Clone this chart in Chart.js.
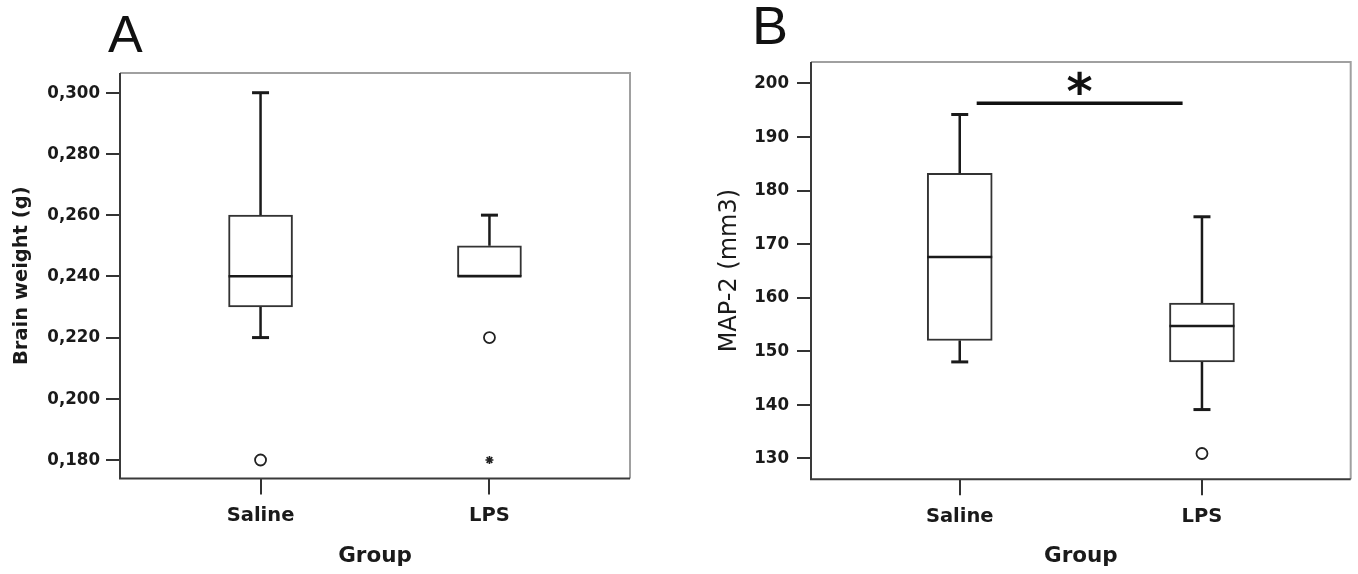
<!DOCTYPE html>
<html>
<head>
<meta charset="utf-8">
<title>Brain weight and MAP-2</title>
<script src="https://cdn.jsdelivr.net/npm/chart.js@4.4.0/dist/chart.umd.min.js"></script>
<style>
  body { margin: 0; background: #fff; width: 1358px; height: 574px; overflow: hidden; position: relative; }
  .panel { position: absolute; top: 0; height: 574px; }
  #panelA { left: 0; width: 680px; }
  #panelB { left: 680px; width: 678px; }
  .letter { position: absolute; font-family: 'Liberation Sans', Arial, sans-serif; font-size: 52px; line-height: 52px; color: #111; }
</style>
</head>
<body>
<div class="panel" id="panelA"><canvas id="chartA" width="680" height="574"></canvas></div>
<div class="panel" id="panelB"><canvas id="chartB" width="678" height="574"></canvas></div>
<div class="letter" style="left:108px; top:8px;">A</div>
<div class="letter" style="left:752px; top:-1px; font-size:54px;">B</div>
<script>
const groups = ['Saline', 'LPS'];
const groupPos = [1, 2];

// Panel A - brain weight (g)
const weightLow = [0.220, 0.240];
const weightQ1 = [0.230, 0.240];
const weightMedian = [0.240, 0.240];
const weightQ3 = [0.260, 0.250];
const weightHigh = [0.300, 0.260];
const weightOutlierGroup = [0, 1];
const weightOutlierValue = [0.180, 0.220];
const weightExtremeGroup = [1];
const weightExtremeValue = [0.180];
const weightTicks = [0.18, 0.20, 0.22, 0.24, 0.26, 0.28, 0.30];
const weightTickLabels = ['0,180', '0,200', '0,220', '0,240', '0,260', '0,280', '0,300'];

// Panel B - MAP-2 volume (mm3)
const mapLow = [148.0, 139.1];
const mapQ1 = [152.0, 148.0];
const mapMedian = [167.6, 154.7];
const mapQ3 = [183.2, 159.0];
const mapHigh = [194.2, 175.1];
const mapOutlierGroup = [1];
const mapOutlierValue = [130.9];
const mapTicks = [130, 140, 150, 160, 170, 180, 190, 200];
const mapTickLabels = ['130', '140', '150', '160', '170', '180', '190', '200'];
// significance bar between the groups
const sigFrom = 1.07, sigTo = 1.92, sigValue = 196.3, sigStarValue = 199.6;

const ink = '#1a1a1a';
const tickFont = { family: "'DejaVu Sans Condensed', 'DejaVu Sans', sans-serif", weight: 'bold', size: 18.5 };
const catFont = { family: "'DejaVu Sans', sans-serif", weight: 'bold', size: 19.5 };

// whiskers, caps and median line of each box
const boxWhiskers = {
  id: 'boxWhiskers',
  afterDatasetsDraw(chart, args, opts) {
    const { ctx, scales: { x, y } } = chart;
    ctx.save();
    ctx.strokeStyle = ink;
    ctx.lineCap = 'butt';
    opts.low.forEach((lo, i) => {
      const cx = x.getPixelForValue(groupPos[i]);
      const seg = (v0, v1) => {
        if (v0 === v1) return;
        ctx.lineWidth = 2.5;
        ctx.beginPath();
        ctx.moveTo(cx, y.getPixelForValue(v0));
        ctx.lineTo(cx, y.getPixelForValue(v1));
        ctx.stroke();
        ctx.lineWidth = 3;
        ctx.beginPath();
        ctx.moveTo(cx - opts.cap / 2, y.getPixelForValue(v1));
        ctx.lineTo(cx + opts.cap / 2, y.getPixelForValue(v1));
        ctx.stroke();
      };
      seg(opts.q3[i], opts.high[i]);
      seg(opts.q1[i], lo);
      ctx.lineWidth = 2.5;
      ctx.beginPath();
      const my = y.getPixelForValue(opts.median[i]);
      ctx.moveTo(cx - opts.box / 2, my);
      ctx.lineTo(cx + opts.box / 2, my);
      ctx.stroke();
    });
    if (opts.star) {
      ctx.fillStyle = '#111';
      ctx.font = "bold 50px 'DejaVu Sans', sans-serif";
      ctx.textAlign = 'center';
      ctx.textBaseline = 'middle';
      ctx.fillText('*', x.getPixelForValue(opts.star.x), y.getPixelForValue(opts.star.y) + 10);
    }
    ctx.restore();
  }
};

// plot frame: dark left/bottom, grey top/right
const frame = {
  id: 'frame',
  afterDraw(chart) {
    const { ctx, chartArea: a } = chart;
    ctx.save();
    ctx.lineWidth = 2;
    ctx.strokeStyle = '#a0a0a0';
    ctx.beginPath();
    ctx.moveTo(a.left, a.top); ctx.lineTo(a.right, a.top); ctx.lineTo(a.right, a.bottom);
    ctx.stroke();
    ctx.strokeStyle = '#3a3a3a';
    ctx.beginPath();
    ctx.moveTo(a.left, a.top); ctx.lineTo(a.left, a.bottom); ctx.lineTo(a.right, a.bottom);
    ctx.stroke();
    ctx.restore();
  }
};

function pointsOf(groupIdx, values) {
  return groupIdx.map((g, i) => ({ x: groupPos[g], y: values[i] }));
}

function makeChart(id, cfg) {
  const datasets = [{
    type: 'bar',
    data: groupPos.map((p, i) => ({ x: p, y: [cfg.q1[i], cfg.q3[i]] })),
    backgroundColor: '#fff',
    borderColor: '#333',
    borderWidth: 2,
    borderSkipped: false,
    barThickness: cfg.box
  }, {
    type: 'scatter',
    data: pointsOf(cfg.outGroup, cfg.outValue),
    pointStyle: 'circle',
    pointRadius: 5.5,
    borderColor: '#222',
    borderWidth: 1.8,
    backgroundColor: '#fff'
  }];
  if (cfg.extGroup) {
    datasets.push({
      type: 'scatter',
      data: pointsOf(cfg.extGroup, cfg.extValue),
      pointStyle: 'star',
      pointRadius: 4,
      borderColor: '#222',
      borderWidth: 1.6
    });
  }
  if (cfg.sig) {
    datasets.push({
      type: 'line',
      data: [{ x: cfg.sig.from, y: cfg.sig.y }, { x: cfg.sig.to, y: cfg.sig.y }],
      borderColor: '#111',
      borderWidth: 3.5,
      pointRadius: 0
    });
  }
  return new Chart(document.getElementById(id), {
    data: { datasets },
    plugins: [boxWhiskers, frame],
    options: {
      responsive: false,
      animation: false,
      events: [],
      layout: { padding: { left: 0, right: cfg.padRight, top: cfg.top, bottom: 0 } },
      plugins: {
        legend: { display: false },
        tooltip: { enabled: false },
        boxWhiskers: {
          low: cfg.low, q1: cfg.q1, median: cfg.median, q3: cfg.q3, high: cfg.high,
          cap: 17, box: cfg.box, star: cfg.star
        }
      },
      scales: {
        x: {
          type: 'linear',
          offset: false,
          min: 0.386,
          max: 2.614,
          afterBuildTicks: s => { s.ticks = groupPos.map(v => ({ value: v })); },
          afterFit: s => { s.height = cfg.xHeight; },
          border: { display: false },
          grid: { offset: false, drawOnChartArea: false, drawTicks: true, tickLength: 16, color: '#333', lineWidth: 2 },
          ticks: { callback: (v, i) => groups[i], font: catFont, color: ink, padding: 10, maxRotation: 0 },
          title: { display: true, text: 'Group', font: { family: "'DejaVu Sans', sans-serif", weight: 'bold', size: 21.5 }, color: ink, padding: 5 }
        },
        y: {
          type: 'linear',
          min: cfg.yMin,
          max: cfg.yMax,
          afterBuildTicks: s => { s.ticks = cfg.ticks.map(v => ({ value: v })); },
          afterFit: s => { s.width = cfg.yWidth; },
          border: { display: false },
          grid: { drawOnChartArea: false, drawTicks: true, tickLength: 14, color: '#333', lineWidth: 2 },
          ticks: { callback: (v, i) => cfg.tickLabels[i], font: tickFont, color: ink, padding: cfg.tickPad },
          title: { display: true, text: cfg.yTitle, font: cfg.yTitleFont, color: ink, padding: cfg.yTitlePad }
        }
      }
    }
  });
}

makeChart('chartA', {
  low: weightLow, q1: weightQ1, median: weightMedian, q3: weightQ3, high: weightHigh,
  outGroup: weightOutlierGroup, outValue: weightOutlierValue,
  extGroup: weightExtremeGroup, extValue: weightExtremeValue,
  ticks: weightTicks, tickLabels: weightTickLabels,
  yMin: 0.17396, yMax: 0.30644,
  yTitle: 'Brain weight (g)',
  yTitleFont: { family: "'DejaVu Sans', sans-serif", weight: 'bold', size: 19.5 },
  yTitlePad: 10,
  box: 64, top: 73, padRight: 50, yWidth: 120, xHeight: 95.5, tickPad: 6
});

makeChart('chartB', {
  low: mapLow, q1: mapQ1, median: mapMedian, q3: mapQ3, high: mapHigh,
  outGroup: mapOutlierGroup, outValue: mapOutlierValue,
  ticks: mapTicks, tickLabels: mapTickLabels,
  yMin: 126.08, yMax: 204.0,
  yTitle: 'MAP-2 (mm3)',
  yTitleFont: { family: "'DejaVu Sans', sans-serif", weight: 'normal', size: 24 },
  yTitlePad: 35,
  sig: { from: sigFrom, to: sigTo, y: sigValue },
  star: { x: (sigFrom + sigTo) / 2, y: sigStarValue },
  box: 65, top: 62, padRight: 6, yWidth: 131, xHeight: 94.7, tickPad: 8
});
</script>
</body>
</html>
